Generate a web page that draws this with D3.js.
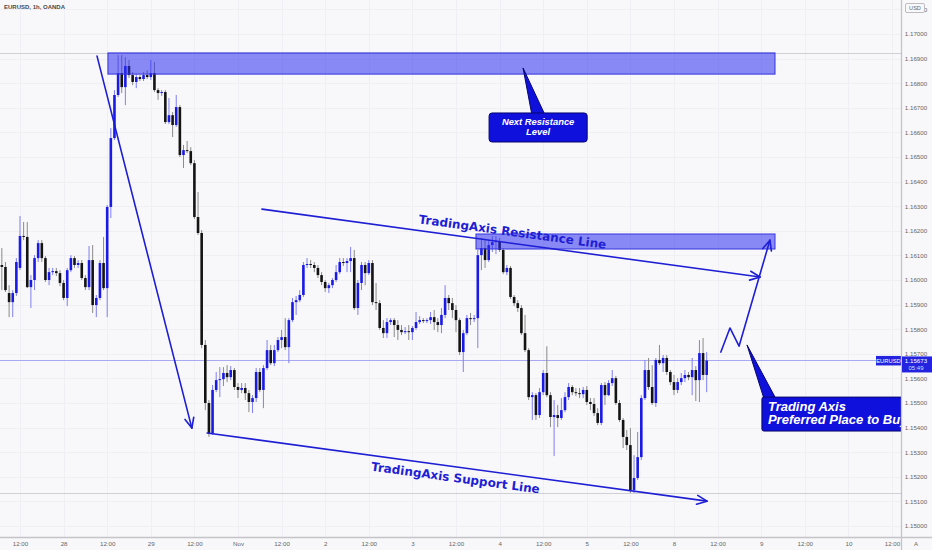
<!DOCTYPE html>
<html><head><meta charset="utf-8">
<script src="https://cdn.jsdelivr.net/npm/d3@7"></script>
<style>html,body{margin:0;padding:0;background:#f8f8fa;}svg{display:block;}</style>
</head><body><svg id="c" width="932" height="550"></svg>
<script>
// ---------- DATA ----------
const symbolTitle = "EURUSD, 1h, OANDA";
const firstHour = 7; // hour index (trading hours since 27 Oct 00:00) of first candle
const opens = [
1.16061,1.16053,1.15947,1.15910,1.15947,1.16049,1.16179,1.16175,1.15971,1.16000,
1.16089,1.16150,1.16089,1.16000,1.16032,1.16036,1.16028,1.15988,1.15927,1.16040,
1.16089,1.16061,1.16069,1.16008,1.15971,1.16081,1.15898,1.15927,1.16069,1.15967,
1.16297,1.16577,1.16752,1.16841,1.16784,1.16870,1.16833,1.16805,1.16825,1.16817,
1.16833,1.16825,1.16841,1.16772,1.16760,1.16764,1.16642,1.16670,1.16630,1.16703,
1.16508,1.16528,1.16524,1.16475,1.16256,1.16191,1.15736,1.15500,1.15378,1.15553,
1.15593,1.15597,1.15622,1.15605,1.15634,1.15565,1.15553,1.15561,1.15540,1.15504,
1.15520,1.15626,1.15553,1.15642,1.15715,1.15662,1.15715,1.15756,1.15768,1.15727,
1.15837,1.15910,1.15918,1.15939,1.16061,1.16065,1.16061,1.16049,1.16020,1.15992,
1.15967,1.15979,1.16000,1.16032,1.16073,1.16069,1.16077,1.16089,1.15886,1.15988,
1.16061,1.16028,1.16069,1.15910,1.15906,1.15805,1.15784,1.15829,1.15837,1.15817,
1.15797,1.15788,1.15792,1.15788,1.15805,1.15829,1.15837,1.15833,1.15837,1.15849,
1.15829,1.15817,1.15858,1.15927,1.15906,1.15878,1.15837,1.15707,1.15784,1.15845,
1.15841,1.15845,1.16101,1.16130,1.16081,1.16142,1.16154,1.16158,1.16122,1.16032,
1.16049,1.15931,1.15906,1.15886,1.15784,1.15715,1.15524,1.15532,1.15451,1.15544,
1.15622,1.15532,1.15443,1.15451,1.15439,1.15471,1.15524,1.15565,1.15544,1.15540,
1.15536,1.15553,1.15504,1.15496,1.15459,1.15419,1.15573,1.15532,1.15581,1.15601,
1.15500,1.15431,1.15362,1.15329,1.15146,1.15195,1.15280,1.15520,1.15634,1.15565,
1.15500,1.15675,1.15662,1.15683,1.15626,1.15585,1.15553,1.15585,1.15601,1.15614,
1.15605,1.15634,1.15593,1.15703,1.15614];
const highs = [
1.16130,1.16073,1.15979,1.15959,1.16089,1.16260,1.16236,1.16236,1.16020,1.16101,
1.16162,1.16162,1.16097,1.16049,1.16049,1.16049,1.16040,1.16000,1.16049,1.16101,
1.16097,1.16081,1.16081,1.16020,1.16138,1.16142,1.15939,1.16081,1.16175,1.16305,
1.16618,1.16772,1.16914,1.16914,1.16906,1.16894,1.16845,1.16837,1.16833,1.16845,
1.16853,1.16894,1.16886,1.16780,1.16772,1.16772,1.16740,1.16683,1.16752,1.16711,
1.16549,1.16565,1.16540,1.16488,1.16358,1.16203,1.15756,1.15512,1.15573,1.15626,
1.15646,1.15646,1.15654,1.15650,1.15642,1.15581,1.15581,1.15581,1.15553,1.15532,
1.15642,1.15642,1.15654,1.15756,1.15736,1.15736,1.15768,1.15797,1.15845,1.15845,
1.15927,1.15935,1.15959,1.16073,1.16089,1.16081,1.16073,1.16061,1.16032,1.16000,
1.15988,1.16008,1.16061,1.16089,1.16089,1.16089,1.16134,1.16122,1.16000,1.16073,
1.16073,1.16081,1.16081,1.15988,1.15918,1.15837,1.15845,1.15845,1.15845,1.15837,
1.15817,1.15809,1.15817,1.15813,1.15870,1.15853,1.15845,1.15845,1.15870,1.15878,
1.15845,1.15886,1.15979,1.15939,1.15927,1.15898,1.15845,1.15797,1.15858,1.15866,
1.15858,1.16122,1.16171,1.16162,1.16162,1.16179,1.16179,1.16171,1.16130,1.16061,
1.16057,1.15939,1.15918,1.15898,1.15858,1.15723,1.15544,1.15540,1.15561,1.15634,
1.15731,1.15544,1.15512,1.15492,1.15520,1.15544,1.15581,1.15573,1.15561,1.15561,
1.15565,1.15569,1.15520,1.15520,1.15479,1.15581,1.15585,1.15593,1.15634,1.15610,
1.15512,1.15439,1.15390,1.15398,1.15288,1.15382,1.15532,1.15675,1.15683,1.15654,
1.15683,1.15736,1.15695,1.15695,1.15634,1.15614,1.15601,1.15622,1.15634,1.15626,
1.15683,1.15650,1.15756,1.15764,1.15707];
const lows = [
1.15959,1.15951,1.15849,1.15849,1.15935,1.16040,1.16162,1.15967,1.15886,1.15959,
1.16073,1.16073,1.15992,1.15979,1.16020,1.16016,1.15975,1.15918,1.15894,1.16032,
1.16049,1.16049,1.16000,1.15959,1.15959,1.15866,1.15849,1.15918,1.15959,1.15849,
1.16252,1.16569,1.16744,1.16760,1.16711,1.16821,1.16792,1.16780,1.16809,1.16809,
1.16817,1.16813,1.16764,1.16732,1.16748,1.16634,1.16634,1.16581,1.16622,1.16500,
1.16455,1.16516,1.16467,1.16248,1.16183,1.15723,1.15471,1.15362,1.15370,1.15544,
1.15524,1.15569,1.15585,1.15593,1.15553,1.15520,1.15540,1.15512,1.15463,1.15459,
1.15504,1.15544,1.15479,1.15634,1.15654,1.15650,1.15707,1.15723,1.15715,1.15662,
1.15829,1.15858,1.15910,1.15931,1.16049,1.16049,1.16032,1.16008,1.15979,1.15951,
1.15947,1.15967,1.15992,1.16024,1.16057,1.16032,1.16032,1.15878,1.15858,1.15959,
1.15979,1.16020,1.15898,1.15878,1.15797,1.15764,1.15764,1.15817,1.15768,1.15756,
1.15776,1.15780,1.15756,1.15756,1.15797,1.15821,1.15825,1.15825,1.15821,1.15797,
1.15788,1.15784,1.15845,1.15878,1.15845,1.15788,1.15695,1.15626,1.15776,1.15817,
1.15829,1.15723,1.16040,1.16049,1.16073,1.16114,1.16105,1.16114,1.16024,1.16020,
1.15923,1.15894,1.15870,1.15776,1.15707,1.15512,1.15431,1.15431,1.15439,1.15532,
1.15524,1.15402,1.15284,1.15402,1.15431,1.15463,1.15512,1.15532,1.15528,1.15520,
1.15520,1.15492,1.15471,1.15447,1.15410,1.15410,1.15492,1.15528,1.15569,1.15492,
1.15423,1.15317,1.15309,1.15134,1.15134,1.15187,1.15268,1.15512,1.15553,1.15492,
1.15484,1.15654,1.15626,1.15614,1.15573,1.15532,1.15540,1.15573,1.15585,1.15593,
1.15532,1.15508,1.15504,1.15593,1.15544];
const closes = [
1.16053,1.15959,1.15910,1.15947,1.16073,1.16179,1.16175,1.15971,1.16000,1.16089,
1.16150,1.16089,1.16000,1.16032,1.16036,1.16028,1.15988,1.15927,1.16040,1.16089,
1.16061,1.16069,1.16008,1.15971,1.16081,1.15898,1.15927,1.16069,1.15967,1.16297,
1.16577,1.16752,1.16841,1.16784,1.16870,1.16833,1.16805,1.16825,1.16817,1.16833,
1.16825,1.16841,1.16772,1.16760,1.16764,1.16642,1.16670,1.16630,1.16703,1.16508,
1.16528,1.16524,1.16475,1.16256,1.16191,1.15736,1.15500,1.15378,1.15553,1.15593,
1.15597,1.15622,1.15605,1.15634,1.15565,1.15553,1.15561,1.15540,1.15504,1.15520,
1.15626,1.15553,1.15642,1.15715,1.15662,1.15715,1.15756,1.15768,1.15727,1.15837,
1.15910,1.15918,1.15939,1.16061,1.16065,1.16061,1.16049,1.16020,1.15992,1.15967,
1.15979,1.16000,1.16032,1.16073,1.16069,1.16077,1.16089,1.15886,1.15988,1.16061,
1.16028,1.16069,1.15910,1.15906,1.15805,1.15784,1.15829,1.15837,1.15817,1.15797,
1.15788,1.15792,1.15788,1.15805,1.15829,1.15837,1.15833,1.15837,1.15849,1.15829,
1.15817,1.15858,1.15927,1.15906,1.15878,1.15837,1.15707,1.15784,1.15845,1.15841,
1.15845,1.16101,1.16130,1.16081,1.16142,1.16154,1.16158,1.16122,1.16032,1.16049,
1.15931,1.15906,1.15886,1.15784,1.15715,1.15524,1.15532,1.15451,1.15544,1.15622,
1.15532,1.15443,1.15451,1.15439,1.15471,1.15524,1.15565,1.15544,1.15540,1.15536,
1.15553,1.15504,1.15496,1.15459,1.15419,1.15573,1.15532,1.15581,1.15601,1.15500,
1.15431,1.15362,1.15329,1.15146,1.15195,1.15280,1.15520,1.15634,1.15565,1.15500,
1.15675,1.15662,1.15683,1.15626,1.15585,1.15553,1.15585,1.15601,1.15614,1.15605,
1.15634,1.15593,1.15703,1.15614,1.15673];

const timeTicks  = [12,24,36,48,60,72,84,96,108,120,132,144,156,168,180,192,204,216,228,240,252];
const timeLabels = ["12:00","28","12:00","29","12:00","Nov","12:00","2","12:00","3","12:00","4","12:00","5","12:00","8","12:00","9","12:00","10","12:00"];
const priceTicks = [1.150,1.151,1.152,1.153,1.154,1.155,1.156,1.157,1.158,1.159,1.160,1.161,1.162,1.163,1.164,1.165,1.166,1.167,1.168,1.169,1.170,1.171];
const lastPrice = 1.15673;
const countdown = "05:49";
const grayLevels = [1.16923, 1.15134];

// zones: [startHour, endHour, topPrice, bottomPrice]
const zoneStart  = [36.2, 137.5];
const zoneEnd    = [219.8, 219.8];
const zoneTop    = [1.16923, 1.16187];
const zoneBottom = [1.16837, 1.16126];

// arrowed lines, points as [hour, price]
const downArrow       = [[33.2,1.16910],[59.3,1.15398]];
const supportLine     = [[63.5,1.15378],[201.1,1.15101]];
const resistanceLine  = [[78.6,1.16288],[215.7,1.16012]];
const projectionPath  = [[204.9,1.15707],[207.4,1.15805],[209.9,1.15731],[218.4,1.16162]];

// callouts
const resCallout = {box:[141.1,168.1,1.16679,1.16561], tip:[150.45,1.16862], base:[152.9,156.5], lines:["Next Resistance","Level"]};
const buyCallout = {box:[216.2,272,1.15524,1.15386], tip:[212.1,1.15736], base:[216.8,220.1], lines:["Trading Axis","Preferred Place to Buy"]};

// rotated line labels: [hour, price] of baseline centre
const resLabel = {text:"TradingAxis Resistance Line", at:[147.4,1.16179], line:resistanceLine};
const supLabel = {text:"TradingAxis Support Line", at:[131.7,1.15179], line:supportLine};

// ---------- DRAW ----------
const W=932,H=550,paneW=901,paneH=537;
const BLUE="#1e1ed4";
const svg=d3.select("#c");
const x=d3.scaleLinear().domain([12,252]).range([20,892]);
const y=d3.scaleLinear().domain([1.15,1.17]).range([526,34]);

svg.append("defs").append("clipPath").attr("id","pane")
  .append("rect").attr("width",paneW).attr("height",paneH);
svg.append("rect").attr("width",W).attr("height",H).attr("fill","#f8f8fa");

const pane=svg.append("g").attr("clip-path","url(#pane)");

// faint grid
pane.append("g").selectAll("line").data(timeTicks).join("line")
  .attr("x1",d=>Math.round(x(d))+0.5).attr("x2",d=>Math.round(x(d))+0.5)
  .attr("y1",0).attr("y2",paneH).attr("stroke","#f0f0f4");
pane.append("g").selectAll("line").data(priceTicks).join("line")
  .attr("y1",d=>Math.round(y(d))+0.5).attr("y2",d=>Math.round(y(d))+0.5)
  .attr("x1",0).attr("x2",paneW).attr("stroke","#f0f0f4");

// gray horizontal levels
pane.append("g").selectAll("line").data(grayLevels).join("line")
  .attr("y1",d=>Math.round(y(d))+0.5).attr("y2",d=>Math.round(y(d))+0.5)
  .attr("x1",0).attr("x2",paneW).attr("stroke","#cfcfd6");

// current price line
pane.append("line").attr("x1",0).attr("x2",paneW)
  .attr("y1",Math.round(y(lastPrice))+0.5).attr("y2",Math.round(y(lastPrice))+0.5)
  .attr("stroke","#a9a9f2").attr("stroke-width",1);

// candles
const idx=d3.range(closes.length);
const up=i=>closes[i]>=opens[i];
const cg=pane.append("g");
cg.selectAll("line").data(idx).join("line")
  .attr("x1",i=>x(firstHour+i)).attr("x2",i=>x(firstHour+i))
  .attr("y1",i=>y(highs[i])).attr("y2",i=>y(lows[i]))
  .attr("stroke",i=>up(i)?"#7f7fee":"#8a8a8a").attr("stroke-width",1);
cg.selectAll("rect").data(idx).join("rect")
  .attr("x",i=>x(firstHour+i)-1.3).attr("width",2.6)
  .attr("y",i=>y(Math.max(opens[i],closes[i])))
  .attr("height",i=>Math.max(1,Math.abs(y(opens[i])-y(closes[i]))))
  .attr("fill",i=>up(i)?"#1a1ae6":"#141414");

// zones
pane.append("g").selectAll("rect").data(zoneStart).join("rect")
  .attr("x",(d,i)=>x(zoneStart[i])).attr("width",(d,i)=>x(zoneEnd[i])-x(zoneStart[i]))
  .attr("y",(d,i)=>y(zoneTop[i])).attr("height",(d,i)=>y(zoneBottom[i])-y(zoneTop[i]))
  .attr("fill","rgba(45,45,240,0.55)").attr("stroke","#3434de").attr("stroke-width",1);

// arrowed lines
const P=p=>[x(p[0]),y(p[1])];
const lg=pane.append("g").attr("fill","none").attr("stroke",BLUE).attr("stroke-width",1.6)
  .attr("stroke-linejoin","round").attr("stroke-linecap","round");
function arrowLine(pts){
  const sp=pts.map(P);
  lg.append("path").attr("d",d3.line()(sp));
  const a=sp[sp.length-2], b=sp[sp.length-1];
  const ang=Math.atan2(b[1]-a[1],b[0]-a[0]), L=11, s=0.42;
  lg.append("path").attr("d",d3.line()([
    [b[0]-L*Math.cos(ang-s),b[1]-L*Math.sin(ang-s)], b,
    [b[0]-L*Math.cos(ang+s),b[1]-L*Math.sin(ang+s)]]));
}
[downArrow,supportLine,resistanceLine,projectionPath].forEach(arrowLine);

// rotated labels
[resLabel,supLabel].forEach(l=>{
  const a=P(l.line[0]), b=P(l.line[1]);
  const ang=Math.atan2(b[1]-a[1],b[0]-a[0])*180/Math.PI;
  const c=P(l.at);
  pane.append("text").attr("transform",`translate(${c[0]},${c[1]}) rotate(${ang})`)
    .attr("text-anchor","middle").attr("font-family","DejaVu Sans").attr("font-weight","bold")
    .attr("font-size",12).attr("fill",BLUE).text(l.text);
});

// callouts
function callout(c,opts){
  const g=pane.append("g");
  const tip=P(c.tip), top=y(c.box[2]);
  g.append("path").attr("d",d3.line()([tip,[x(c.base[0]),top+2],[x(c.base[1]),top+2]])+"Z")
    .attr("fill","#1010dc").attr("stroke","#06066e").attr("stroke-width",1);
  g.append("rect").attr("x",x(c.box[0])).attr("y",top)
    .attr("width",x(c.box[1])-x(c.box[0])).attr("height",y(c.box[3])-top)
    .attr("rx",opts.rx).attr("fill","#1010dc").attr("stroke","#06066e").attr("stroke-width",1);
  c.lines.forEach((t,k)=>{
    g.append("text").attr("x",opts.center?(x(c.box[0])+x(c.box[1]))/2:x(c.box[0])+opts.pad)
      .attr("y",top+opts.first+k*opts.lh).attr("text-anchor",opts.center?"middle":"start")
      .attr("font-family","Liberation Sans").attr("font-weight","bold").attr("font-style","italic")
      .attr("font-size",opts.fs).attr("fill","#ffffff").text(t);
  });
}
callout(resCallout,{rx:3,center:true,first:12.5,lh:9.8,fs:9.4});
callout(buyCallout,{rx:2,center:false,pad:6,first:14.3,lh:12.3,fs:13});

// EURUSD tag at pane edge
const py=y(lastPrice);
svg.append("rect").attr("x",876).attr("y",py-4.5).attr("width",25).attr("height",9.5).attr("fill","#2323e0");
svg.append("text").attr("x",888.5).attr("y",py+2.5).attr("text-anchor","middle")
  .attr("font-family","Liberation Sans").attr("font-size",5.8).attr("fill","#fff").text("EURUSD");

// axes separators
svg.append("line").attr("x1",paneW+0.5).attr("x2",paneW+0.5).attr("y1",0).attr("y2",H)
  .attr("stroke","#c4c4c8").attr("stroke-width",1.3);
svg.append("line").attr("x1",0).attr("x2",W).attr("y1",paneH+0.5).attr("y2",paneH+0.5)
  .attr("stroke","#c4c4c8").attr("stroke-width",1.6);

// right price axis
const yAxis=d3.axisRight(y).tickValues(priceTicks).tickFormat(d3.format(".5f")).tickSize(0);
const ya=svg.append("g").attr("transform",`translate(${paneW},0)`).call(yAxis);
ya.select(".domain").remove();
ya.selectAll("text").attr("x",15).attr("text-anchor","middle")
  .attr("font-family","Liberation Sans").attr("font-size",6.2).attr("fill","#666");

// bottom time axis
const xAxis=d3.axisBottom(x).tickValues(timeTicks).tickFormat((d,i)=>timeLabels[i]).tickSize(0);
const xa=svg.append("g").attr("transform",`translate(0,${paneH})`).call(xAxis);
xa.select(".domain").remove();
xa.selectAll("text").attr("y",9).attr("dy",null)
  .attr("font-family","Liberation Sans").attr("font-size",6.2).attr("fill","#666");
svg.append("text").attr("x",916).attr("y",546).attr("text-anchor","middle")
  .attr("font-family","Liberation Sans").attr("font-size",6.2).attr("fill","#666").text("A");

// price label on axis
svg.append("rect").attr("x",paneW+1).attr("y",py-4).attr("width",W-paneW-1).attr("height",16).attr("fill","#2323e0");
svg.append("text").attr("x",916).attr("y",py+3).attr("text-anchor","middle")
  .attr("font-family","Liberation Sans").attr("font-size",6.2).attr("fill","#fff").text(d3.format(".5f")(lastPrice));
svg.append("text").attr("x",916).attr("y",py+10).attr("text-anchor","middle")
  .attr("font-family","Liberation Sans").attr("font-size",6).attr("fill","#dcdcff").text(countdown);

// USD box
svg.append("rect").attr("x",905.5).attr("y",3.5).attr("width",19).attr("height",9).attr("rx",1.5)
  .attr("fill","#f8f8fa").attr("stroke","#bdbdc2");
svg.append("text").attr("x",915).attr("y",10.3).attr("text-anchor","middle")
  .attr("font-family","Liberation Sans").attr("font-size",5.6).attr("fill","#666").text("USD");

// title
svg.append("text").attr("x",4).attr("y",9).attr("font-family","Liberation Sans").attr("font-weight","bold")
  .attr("font-size",6).attr("fill","#4a4a4a").text(symbolTitle);
</script></body></html>
